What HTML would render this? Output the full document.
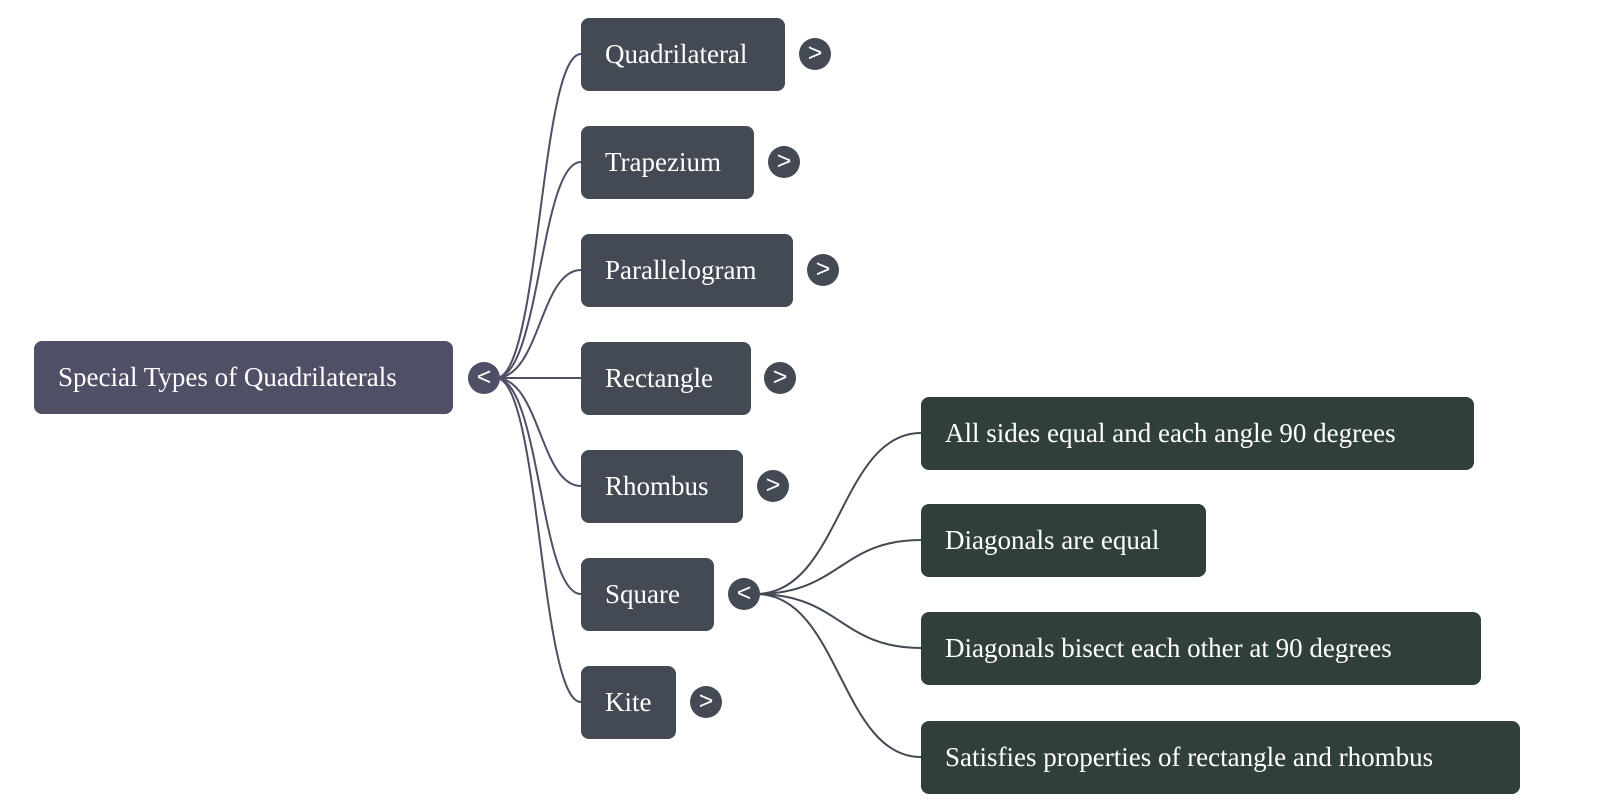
<!DOCTYPE html>
<html><head><meta charset="utf-8"><style>
body{margin:0;width:1600px;height:809px;background:#fff;overflow:hidden;position:relative;font-family:"Liberation Serif",serif;}
.n{position:absolute;height:73px;border-radius:8px;color:#fff;font-size:27px;line-height:73px;padding-left:24px;box-sizing:border-box;white-space:nowrap;}
.r{background:#4f4f66}
.c{background:#434a54}
.l{background:#313f3b}
.b{position:absolute;width:32px;height:32px;border-radius:50%;color:#fff;font-family:"Liberation Sans",sans-serif;font-size:25px;line-height:30px;text-align:center;}
svg{position:absolute;left:0;top:0}
</style></head><body>
<svg width="1600" height="809" fill="none" stroke-width="2">
<g stroke="#4f4f66">
<path d="M496 378 C540 378 540 54 581 54"/>
<path d="M496 378 C540 378 540 162 581 162"/>
<path d="M496 378 C540 378 540 270 581 270"/>
<path d="M496 378 L581 378"/>
<path d="M496 378 C540 378 540 486 581 486"/>
<path d="M496 378 C540 378 540 594 581 594"/>
<path d="M496 378 C540 378 540 702 581 702"/>
</g>
<g stroke="#434a54">
<path d="M756 594 C840 594 840 433 921 433"/>
<path d="M756 594 C840 594 840 540 921 540"/>
<path d="M756 594 C840 594 840 648 921 648"/>
<path d="M756 594 C840 594 840 757 921 757"/>
</g>
</svg>
<div class="n r" style="left:34px;top:341px;width:419px">Special Types of Quadrilaterals</div>
<div class="b r" style="left:468px;top:362px">&lt;</div>
<div class="n c" style="left:581px;top:18px;width:204px">Quadrilateral</div><div class="b c" style="left:799px;top:38px">&gt;</div>
<div class="n c" style="left:581px;top:126px;width:173px">Trapezium</div><div class="b c" style="left:768px;top:146px">&gt;</div>
<div class="n c" style="left:581px;top:234px;width:212px">Parallelogram</div><div class="b c" style="left:807px;top:254px">&gt;</div>
<div class="n c" style="left:581px;top:342px;width:170px">Rectangle</div><div class="b c" style="left:764px;top:362px">&gt;</div>
<div class="n c" style="left:581px;top:450px;width:162px">Rhombus</div><div class="b c" style="left:757px;top:470px">&gt;</div>
<div class="n c" style="left:581px;top:558px;width:133px">Square</div><div class="b c" style="left:728px;top:578px">&lt;</div>
<div class="n c" style="left:581px;top:666px;width:95px">Kite</div><div class="b c" style="left:690px;top:686px">&gt;</div>
<div class="n l" style="left:921px;top:397px;width:553px">All sides equal and each angle 90 degrees</div>
<div class="n l" style="left:921px;top:504px;width:285px">Diagonals are equal</div>
<div class="n l" style="left:921px;top:612px;width:560px">Diagonals bisect each other at 90 degrees</div>
<div class="n l" style="left:921px;top:721px;width:599px">Satisfies properties of rectangle and rhombus</div>
</body></html>
